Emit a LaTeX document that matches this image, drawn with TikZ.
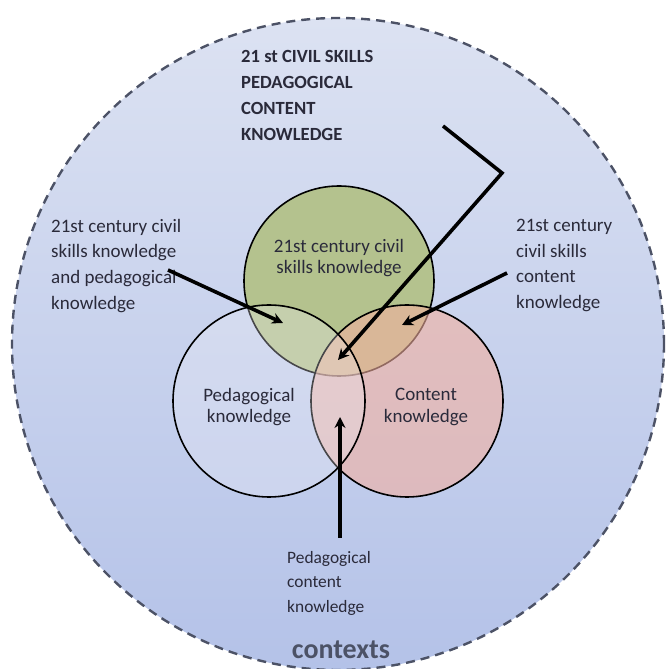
\documentclass[tikz,border=0pt]{standalone}
\usepackage{fontspec}
\setmainfont{Carlito}
\usetikzlibrary{arrows.meta}
\definecolor{ctxtop}{HTML}{DCE2F2}
\definecolor{ctxbot}{HTML}{B4C2E8}
\definecolor{ctxline}{HTML}{4C5266}
\definecolor{civil}{HTML}{B4C28E}
\definecolor{content}{HTML}{F2B0A0}
\definecolor{pedag}{HTML}{EEEEF6}
\definecolor{txt}{HTML}{2A2A3A}
\tikzset{
  lbl/.style={align=left, text=txt, font=\fontsize{19}{25.6}\selectfont, inner sep=0pt},
  inlbl/.style={align=center, text=txt, font=\fontsize{19}{21.5}\selectfont, inner sep=0pt},
  pointer/.style={line width=3.6pt, -{Stealth[length=11pt,width=11pt]}},
  ring/.style={line width=1.6pt}
}
\begin{document}
\begin{tikzpicture}[x=1pt, y=1pt]
\useasboundingbox (0,0) rectangle (668,669);
% contexts
\begin{scope}
\clip (0,0) rectangle (668,669);
\shade[top color=ctxtop, bottom color=ctxbot] (338,325) circle (326);
\draw[ctxline, line width=2.4pt, dash pattern=on 9pt off 6pt] (338,325) circle (326);
\end{scope}
% the three circles
\fill[civil] (339,388) circle (95);
\draw[ring] (339,388) circle (95);
\fill[content, opacity=0.6] (407,268) circle (96);
\draw[ring] (407,268) circle (96);
\fill[pedag, opacity=0.3] (269,268) circle (96);
\draw[ring] (269,268) circle (96);
% texts
\node[inlbl] (civilk) at (339,411) {21st century civil\\skills knowledge};
\node[inlbl] (pedk) at (249,262) {Pedagogical\\knowledge};
\node[inlbl] (contk) at (426,262) {Content\\knowledge};
\node[lbl, anchor=north west] (cpk) at (51,450) {21st century civil\\skills knowledge\\and pedagogical\\knowledge};
\node[lbl, anchor=north west] (ccsk) at (516,450) {21st century\\civil skills\\content\\knowledge};
\node[lbl, anchor=north west, font=\fontsize{17.4}{24.5}\selectfont] (pck) at (287,118) {Pedagogical\\content\\knowledge};
\node[lbl, anchor=north west, font=\bfseries\fontsize{18.6}{26}\selectfont] (tpck) at (241,619) {21 st CIVIL SKILLS\\PEDAGOGICAL\\CONTENT\\KNOWLEDGE};
\node[text=ctxline, font=\bfseries\fontsize{28}{28}\selectfont, inner sep=0pt] (ctx) at (341,19) {contexts};
% arrows
\coordinate (tpA) at (443,543);
\coordinate (tpB) at (502,496);
\coordinate (tpC) at (338,309);
\coordinate (cpA) at (168,399);
\coordinate (cpB) at (283,346);
\coordinate (ccA) at (507,396);
\coordinate (ccB) at (402,344);
\coordinate (pcA) at (340,131);
\coordinate (pcB) at (340,252);
\draw[pointer, line join=miter] (tpA) -- (tpB) -- (tpC);
\draw[pointer] (cpA) -- (cpB);
\draw[pointer] (ccA) -- (ccB);
\draw[pointer] (pcA) -- (pcB);
\end{tikzpicture}
\end{document}
